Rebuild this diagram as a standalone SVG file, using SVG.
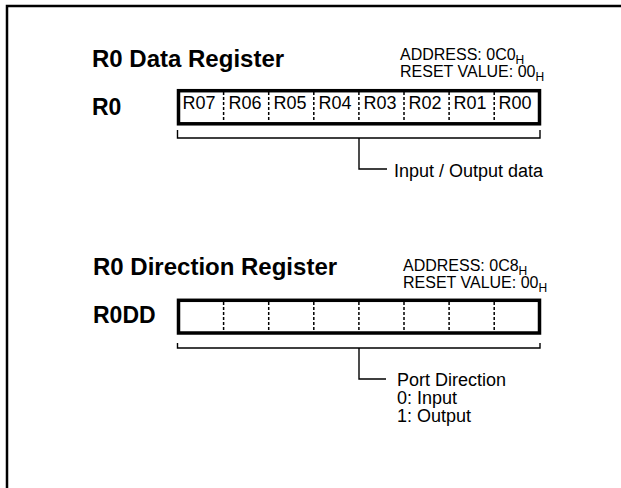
<svg xmlns="http://www.w3.org/2000/svg" width="621" height="488" viewBox="0 0 621 488">
<style>
text{font-family:"Liberation Sans",Arial,sans-serif;fill:#000}
.title{font-size:24px;font-weight:bold}
.lbl{font-size:23px;font-weight:bold}
.t{font-size:18px}
.a{font-size:16px}
.sub{font-size:12px}
.cell{font-size:18px;text-anchor:middle}
.box{fill:#fff;stroke:#000;stroke-width:3.5}
.div{stroke:#000;stroke-width:1.5;stroke-dasharray:3 2}
.ln{fill:none;stroke:#000;stroke-width:1.4}
</style>
<rect width="621" height="488" fill="#fff"/>
<path d="M7,488 V6 H621" fill="none" stroke="#000" stroke-width="2.5"/>

<g id="r0-register">
<text class="title" x="92" y="67">R0 Data Register</text>
<text class="a" x="400" y="59.5">ADDRESS: 0C0<tspan class="sub" dy="4">H</tspan></text>
<text class="a" x="400" y="77">RESET VALUE: 00<tspan class="sub" dy="4">H</tspan></text>
<text class="lbl" x="92" y="115">R0</text>
<rect class="box" x="178.5" y="90.7" width="361" height="33.1"/>
<g class="div">
<line x1="223.6" y1="92" x2="223.6" y2="122"/>
<line x1="268.7" y1="92" x2="268.7" y2="122"/>
<line x1="313.8" y1="92" x2="313.8" y2="122"/>
<line x1="358.9" y1="92" x2="358.9" y2="122"/>
<line x1="404" y1="92" x2="404" y2="122"/>
<line x1="449.1" y1="92" x2="449.1" y2="122"/>
<line x1="494.2" y1="92" x2="494.2" y2="122"/>
</g>
<text class="cell" x="199" y="108.5">R07</text>
<text class="cell" x="245" y="108.5">R06</text>
<text class="cell" x="290" y="108.5">R05</text>
<text class="cell" x="335" y="108.5">R04</text>
<text class="cell" x="380" y="108.5">R03</text>
<text class="cell" x="425" y="108.5">R02</text>
<text class="cell" x="470" y="108.5">R01</text>
<text class="cell" x="515" y="108.5">R00</text>
</g>

<g id="r0dd-register">
<text class="title" x="93" y="275">R0 Direction Register</text>
<text class="a" x="403" y="270.5">ADDRESS: 0C8<tspan class="sub" dy="4">H</tspan></text>
<text class="a" x="403" y="288">RESET VALUE: 00<tspan class="sub" dy="4">H</tspan></text>
<text class="lbl" x="93" y="322.7">R0DD</text>
<rect class="box" x="178.5" y="300.3" width="361" height="32.7"/>
<g class="div">
<line x1="223.6" y1="302" x2="223.6" y2="331"/>
<line x1="268.7" y1="302" x2="268.7" y2="331"/>
<line x1="313.8" y1="302" x2="313.8" y2="331"/>
<line x1="358.9" y1="302" x2="358.9" y2="331"/>
<line x1="404" y1="302" x2="404" y2="331"/>
<line x1="449.1" y1="302" x2="449.1" y2="331"/>
<line x1="494.2" y1="302" x2="494.2" y2="331"/>
</g>
</g>

<g id="label-io">
<text class="t" x="394" y="176.5">Input / Output data</text>
</g>
<g id="label-dir">
<text class="t" x="397" y="385.7">Port Direction</text>
<text class="t" x="397" y="404.3">0: Input</text>
<text class="t" x="397" y="421.7">1: Output</text>
</g>

<g id="connectors">
<path class="ln" d="M177.5,130 V138 H540 V130"/>
<path class="ln" d="M359,138 V169 H387"/>
<path class="ln" d="M177.5,343 V348 H540 V343"/>
<path class="ln" d="M359,348 V379 H386"/>
</g>
</svg>
